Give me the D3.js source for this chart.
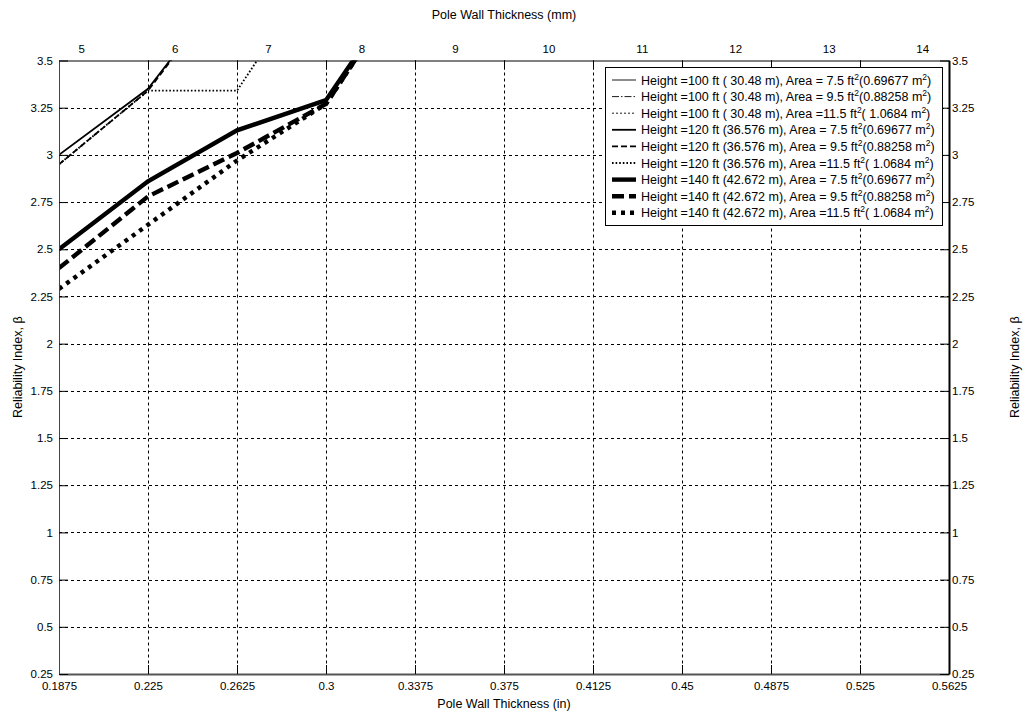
<!DOCTYPE html>
<html>
<head>
<meta charset="utf-8">
<script src="https://cdn.jsdelivr.net/npm/d3@7"></script>
<style>
  body { margin: 0; background: #fff; }
  text { font-family: "Liberation Sans", Arial, Helvetica, sans-serif; fill: #000; }
</style>
</head>
<body>
<svg id="chart" width="1029" height="715"></svg>
<script>
// Wall thickness values (in) at which reliability was evaluated
const thicknessIn = [0.1875, 0.225, 0.2625, 0.3, 0.3375];

// Axis ticks
const xTicksIn = [0.1875, 0.225, 0.2625, 0.3, 0.3375, 0.375, 0.4125, 0.45, 0.4875, 0.525, 0.5625];
const yTicks = [0.25, 0.5, 0.75, 1, 1.25, 1.5, 1.75, 2, 2.25, 2.5, 2.75, 3, 3.25, 3.5];
const mmTicks = [5, 6, 7, 8, 9, 10, 11, 12, 13, 14];

// Reliability index β per pole height / projected area
// 100 ft poles sit above the plotted β range
const beta100ft75 = [3.62, 3.98, 4.35];
const beta100ft95 = [3.58, 3.96, 4.33];
const beta100ft115 = [3.55, 3.94, 4.30];
const beta120ft75 = [3.00, 3.35, 3.96];
const beta120ft95 = [2.95, 3.34, 3.96];
const beta120ft115 = [2.95, 3.34, 3.34, 4.05];
const beta140ft75 = [2.50, 2.86, 3.13, 3.29, 3.98];
const beta140ft95 = [2.40, 2.78, 3.01, 3.27, 3.98];
const beta140ft115 = [2.29, 2.63, 2.97, 3.27, 3.98];

// Legend text pieces: [before ft², between, after m²]
const seriesLabels = [
  ["Height =100 ft ( 30.48 m), Area = 7.5 ft", "(0.69677 m", ")"],
  ["Height =100 ft ( 30.48 m), Area = 9.5 ft", "(0.88258 m", ")"],
  ["Height =100 ft ( 30.48 m), Area =11.5 ft", "( 1.0684 m", ")"],
  ["Height =120 ft (36.576 m), Area = 7.5 ft", "(0.69677 m", ")"],
  ["Height =120 ft (36.576 m), Area = 9.5 ft", "(0.88258 m", ")"],
  ["Height =120 ft (36.576 m), Area =11.5 ft", "( 1.0684 m", ")"],
  ["Height =140 ft (42.672 m), Area = 7.5 ft", "(0.69677 m", ")"],
  ["Height =140 ft (42.672 m), Area = 9.5 ft", "(0.88258 m", ")"],
  ["Height =140 ft (42.672 m), Area =11.5 ft", "( 1.0684 m", ")"]
];

const seriesValues = [beta100ft75, beta100ft95, beta100ft115,
                      beta120ft75, beta120ft95, beta120ft115,
                      beta140ft75, beta140ft95, beta140ft115];

// Line styles: width + dash pattern
const styles = [
  { w: 0.9, dash: null }, { w: 0.9, dash: "7,2,1.5,2" }, { w: 0.9, dash: "2,2" },
  { w: 1.8, dash: null }, { w: 1.8, dash: "6,3" },       { w: 1.8, dash: "1.6,2" },
  { w: 4.4, dash: null }, { w: 4.4, dash: "12,5" },      { w: 4.4, dash: "4,5" }
];

const svg = d3.select("#chart");
const L = 59, R = 949, T = 60.5, B = 674;

const x = d3.scaleLinear().domain([0.1875, 0.5625]).range([L, R]);
const y = d3.scaleLinear().domain([0.25, 3.5]).range([B, T]);
const xMm = d3.scaleLinear().domain([0.1875 * 25.4, 0.5625 * 25.4]).range([L, R]);

svg.append("defs").append("clipPath").attr("id", "plotClip")
  .append("rect").attr("x", L).attr("y", T).attr("width", R - L).attr("height", B - T);

// Dashed grid
const grid = svg.append("g");
grid.selectAll("line.h").data(yTicks.slice(1, -1)).join("line")
  .attr("x1", L).attr("x2", R)
  .attr("y1", d => Math.round(y(d)) + 0.5).attr("y2", d => Math.round(y(d)) + 0.5)
  .attr("stroke", "#000").attr("stroke-width", 1).attr("stroke-dasharray", "3,3");
grid.selectAll("line.v").data(xTicksIn.slice(1, -1)).join("line")
  .attr("y1", T).attr("y2", B)
  .attr("x1", d => Math.round(x(d)) + 0.5).attr("x2", d => Math.round(x(d)) + 0.5)
  .attr("stroke", "#000").attr("stroke-width", 1).attr("stroke-dasharray", "3,3");

// Curves
const line = d3.line().x((d, i) => x(thicknessIn[i])).y(d => y(d));
const curves = svg.append("g").attr("clip-path", "url(#plotClip)");
seriesValues.forEach((vals, i) => {
  curves.append("path").datum(vals)
    .attr("d", line)
    .attr("fill", "none").attr("stroke", "#000")
    .attr("stroke-width", styles[i].w)
    .attr("stroke-dasharray", styles[i].dash)
    .attr("stroke-linejoin", "miter");
});

// Axes
const fontSize = 11.5;
const gBottom = svg.append("g").attr("transform", `translate(0,${B})`)
  .call(d3.axisBottom(x).tickValues(xTicksIn).tickFormat(d => String(d))
        .tickSize(-9).tickSizeOuter(0).tickPadding(8));
const gTop = svg.append("g").attr("transform", `translate(0,${T})`)
  .call(d3.axisTop(x).tickValues(xTicksIn).tickFormat("").tickSize(-9).tickSizeOuter(0));
const gTopMm = svg.append("g").attr("transform", `translate(0,${T})`)
  .call(d3.axisTop(xMm).tickValues(mmTicks).tickFormat(d => String(d))
        .tickSize(0).tickSizeOuter(0).tickPadding(8));
const gLeft = svg.append("g").attr("transform", `translate(${L},0)`)
  .call(d3.axisLeft(y).tickValues(yTicks).tickFormat(d => String(d))
        .tickSize(-9).tickSizeOuter(0).tickPadding(6));
const gRight = svg.append("g").attr("transform", `translate(${R},0)`)
  .call(d3.axisRight(y).tickValues(yTicks).tickFormat(d => String(d))
        .tickSize(-9).tickSizeOuter(0).tickPadding(3));

[gBottom, gTop, gTopMm, gLeft, gRight].forEach(g => {
  g.selectAll("text").attr("font-size", fontSize)
    .attr("font-family", '"Liberation Sans", Arial, sans-serif').attr("fill", "#000");
  g.selectAll(".tick line").attr("stroke", "#000");
});
gTopMm.select(".domain").remove();
gBottom.select(".domain").attr("stroke", "#555").attr("stroke-width", 2);
gLeft.select(".domain").attr("stroke", "#444").attr("stroke-width", 1);
gTop.select(".domain").attr("stroke", "#000").attr("stroke-width", 1);
gRight.select(".domain").attr("stroke", "#000").attr("stroke-width", 2);

// Legend
const lgX = 605, lgY = 67, lgW = 337, lgH = 158, rowH = 16.6;
const legend = svg.append("g");
legend.append("rect").attr("x", lgX + 0.5).attr("y", lgY + 0.5)
  .attr("width", lgW).attr("height", lgH)
  .attr("fill", "#fff").attr("stroke", "#000").attr("stroke-width", 1);
seriesLabels.forEach((parts, i) => {
  const cy = lgY + 13 + i * rowH;
  legend.append("line")
    .attr("x1", 612).attr("x2", 636).attr("y1", cy).attr("y2", cy)
    .attr("stroke", "#000").attr("stroke-width", styles[i].w)
    .attr("stroke-dasharray", styles[i].dash);
  const t = legend.append("text").attr("x", 641).attr("y", cy + 4.5)
    .attr("font-size", 12.5).attr("xml:space", "preserve");
  t.append("tspan").text(parts[0]);
  t.append("tspan").attr("dy", -5).attr("font-size", 8.5).text("2");
  t.append("tspan").attr("dy", 5).text(parts[1]);
  t.append("tspan").attr("dy", -5).attr("font-size", 8.5).text("2");
  t.append("tspan").attr("dy", 5).text(parts[2]);
});

// Axis titles
svg.append("text").attr("x", (L + R) / 2).attr("y", 708).attr("text-anchor", "middle")
  .attr("font-size", 12.5).text("Pole Wall Thickness (in)");
svg.append("text").attr("x", (L + R) / 2).attr("y", 19).attr("text-anchor", "middle")
  .attr("font-size", 12.5).text("Pole Wall Thickness (mm)");
svg.append("text").attr("transform", `translate(22,${(T + B) / 2}) rotate(-90)`)
  .attr("text-anchor", "middle").attr("font-size", 12.5).text("Reliability Index, β");
svg.append("text").attr("transform", `translate(1019,${(T + B) / 2}) rotate(-90)`)
  .attr("text-anchor", "middle").attr("font-size", 12.5).text("Reliability Index, β");
</script>
</body>
</html>
